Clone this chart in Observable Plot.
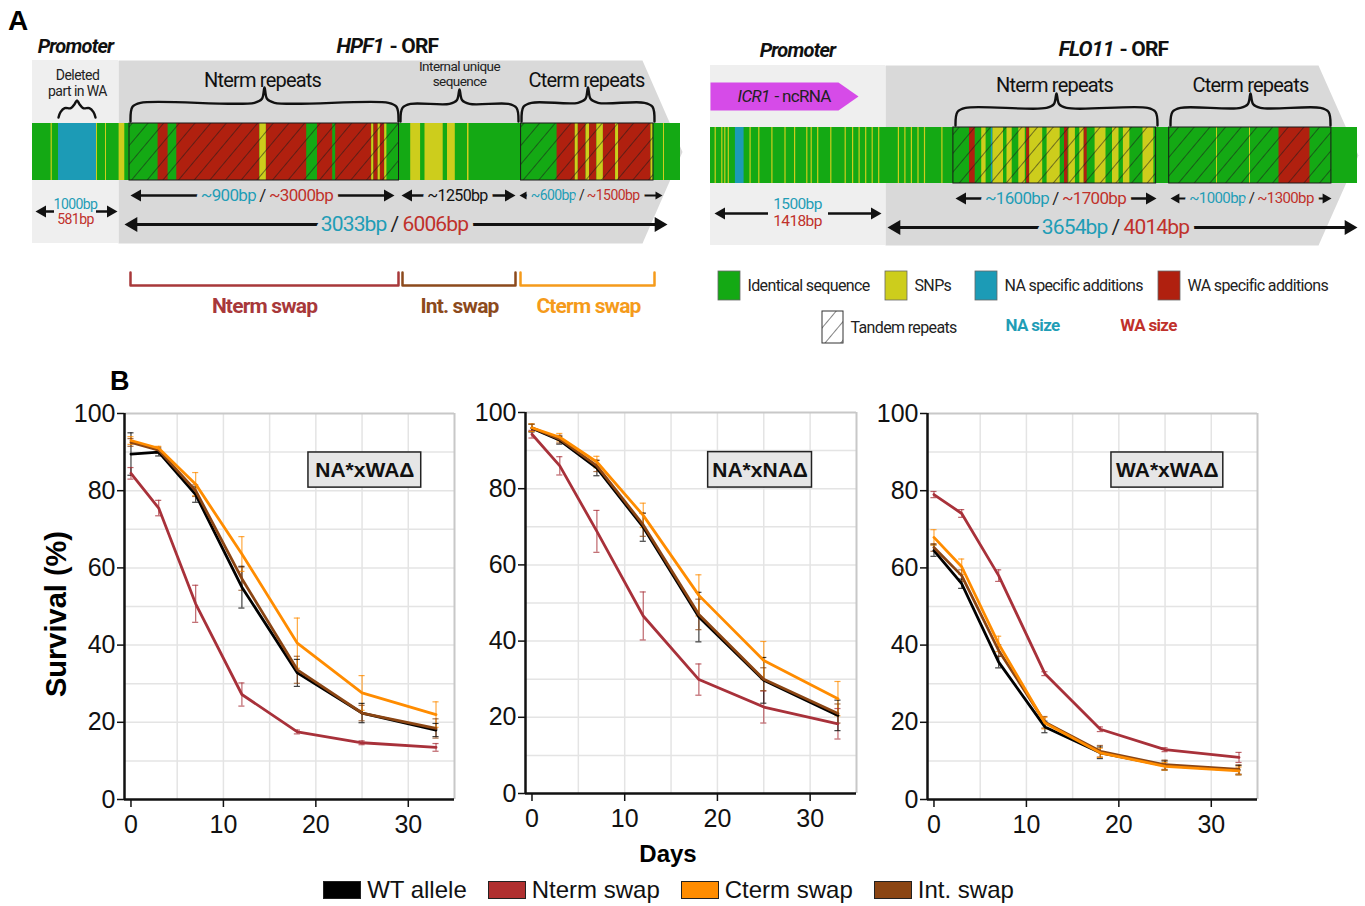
<!DOCTYPE html>
<html><head><meta charset="utf-8">
<script src="https://cdn.jsdelivr.net/npm/d3@7"></script>
<script src="https://cdn.jsdelivr.net/npm/@observablehq/plot@0.6"></script>
<style>
body{margin:0;background:#fff;}
#page{position:relative;width:1365px;height:906px;overflow:hidden;font-family:"Liberation Sans",Arial,sans-serif;background:#fff;}
.abs{position:absolute;}
.panelA text{letter-spacing:-0.04em;}
#legend{display:flex;align-items:center;justify-content:center;font-size:24px;color:#111;}
#legend .sw{width:36px;height:16px;border:1.5px solid #222;margin-right:6px;}
#legend .it{display:flex;align-items:center;margin-right:21px;}
</style></head><body>
<svg width="0" height="0" style="position:absolute">
<defs>
<pattern id="hatchA" patternUnits="userSpaceOnUse" width="12" height="12" patternTransform="rotate(40)">
<line x1="0" y1="-2" x2="0" y2="14" stroke="#1a1a1a" stroke-width="1.1"/>
</pattern>
</defs>
</svg>
<div id="page">
  <div id="panelA" class="abs" style="left:0;top:0;width:1365px;height:345px"></div>
  <div class="abs" style="left:8px;top:5px;font-weight:bold;font-size:28px;">A</div>
  <div id="c1" class="abs" style="left:64px;top:395px;width:400px"></div>
  <div id="c2" class="abs" style="left:465px;top:394px;width:401px"></div>
  <div id="c3" class="abs" style="left:867px;top:395px;width:400px"></div>
  <div class="abs" style="left:110px;top:366px;font-weight:bold;font-size:27px;">B</div>
  <div class="abs" style="left:-94px;top:598px;width:300px;text-align:center;font-weight:bold;font-size:29px;transform:rotate(-90deg);transform-origin:150px 16px;">Survival (%)</div>
  <div class="abs" style="left:568px;top:840px;width:200px;text-align:center;font-weight:bold;font-size:24px;">Days</div>
  <div id="legend" class="abs" style="left:0;top:877px;width:1358px;height:26px"></div>
</div>
<script>
// ---------------- Panel B data ----------------
const days = [0, 3, 7, 12, 18, 25, 33];
const seriesNames = ["WT allele", "Nterm swap", "Cterm swap", "Int. swap"];
const seriesColors = ["#000000", "#a8313a", "#ff8c00", "#8b4513"];
const crossNames = ["NA*xWAΔ", "NA*xNAΔ", "WA*xWAΔ"];

// NA*xWAΔ
const naWa_wt = [89.5, 90.0, 79.0, 55.0, 32.8, 22.4, 18.0];
const naWa_wtErr = [5.5, 1.0, 2.0, 5.4, 3.5, 2.5, 1.7];
const naWa_nterm = [84.5, 75.5, 50.7, 27.2, 17.5, 14.7, 13.5];
const naWa_ntermErr = [1.5, 2.0, 4.8, 3.0, 0.5, 0.5, 1.0];
const naWa_cterm = [93.0, 91.0, 81.7, 63.6, 40.5, 27.6, 22.0];
const naWa_ctermErr = [1.0, 0.5, 3.0, 4.5, 6.5, 4.5, 3.3];
const naWa_int = [92.5, 90.5, 80.0, 57.2, 33.6, 22.4, 18.4];
const naWa_intErr = [1.0, 0.8, 1.5, 3.0, 3.5, 2.0, 2.5];

// NA*xNAΔ
const naNa_wt = [95.9, 92.7, 85.4, 69.9, 46.3, 29.7, 20.5];
const naNa_wtErr = [1.0, 1.0, 2.0, 3.7, 6.5, 6.0, 4.0];
const naNa_nterm = [94.3, 86.0, 68.8, 46.6, 29.9, 22.7, 18.3];
const naNa_ntermErr = [1.0, 2.4, 5.5, 6.3, 4.1, 4.2, 4.0];
const naNa_cterm = [96.0, 93.5, 87.0, 73.0, 52.0, 34.9, 24.9];
const naNa_ctermErr = [1.0, 1.0, 1.5, 3.2, 5.4, 5.0, 4.5];
const naNa_int = [96.0, 93.0, 86.0, 70.5, 47.0, 30.0, 21.0];
const naNa_intErr = [1.0, 1.0, 1.5, 3.0, 4.0, 3.0, 2.5];

// WA*xWAΔ
const waWa_wt = [64.5, 55.9, 35.6, 18.8, 12.1, 8.8, 7.6];
const waWa_wtErr = [1.5, 1.2, 1.5, 1.5, 1.5, 1.2, 1.2];
const waWa_nterm = [79.0, 74.1, 58.0, 32.6, 18.2, 12.9, 10.9];
const waWa_ntermErr = [0.8, 1.0, 1.5, 0.5, 0.6, 0.5, 1.3];
const waWa_cterm = [67.9, 60.3, 40.3, 19.8, 12.1, 8.6, 7.4];
const waWa_ctermErr = [2.0, 2.0, 2.0, 1.5, 1.2, 1.0, 1.0];
const waWa_int = [65.3, 58.0, 38.6, 20.0, 12.5, 9.0, 7.8];
const waWa_intErr = [1.0, 1.5, 1.5, 1.5, 1.5, 1.2, 1.2];

const xTicks = [0, 10, 20, 30];
const yTicks = [0, 20, 40, 60, 80, 100];

// ---------------- Panel A data (schematic positions) ----------------
const segColors = {id: "#14a914", snp: "#cdcd1c", na: "#1c9bb6", wa: "#b0200f"};
const naText = "#1f9db6", waText = "#c0312b";

const geneBars = [
  {gene: "HPF1", x1: 32, x2: 680, y1: 123, y2: 180},
  {gene: "FLO11", x1: 710, x2: 1357, y1: 127, y2: 183}
];
const hpf1Segments = [
  [50.6,51.8,"snp"],[58,96,"na"],[96,97,"snp"],[105,106,"snp"],[118.6,124.3,"snp"],
  [157.6,167.6,"wa"],[176.3,259.4,"wa"],[259.4,265.9,"snp"],[265.9,306.2,"wa"],[317,332.2,"wa"],
  [335.2,371.2,"wa"],[371.2,373.4,"snp"],[373.4,377.7,"wa"],[377.7,379.9,"snp"],[379.9,384.2,"wa"],[384.2,386.4,"snp"],
  [410.2,420.1,"snp"],[424.5,442.7,"snp"],[447,454.8,"snp"],[467,468.5,"snp"],
  [556.6,574.8,"wa"],[574.8,577.8,"snp"],[577.8,585.6,"wa"],[585.6,589.1,"snp"],[589.1,596.4,"wa"],
  [596.4,602.9,"snp"],[602.9,615.1,"wa"],[615.1,618.1,"snp"],[618.1,650.6,"wa"],[650.6,652.8,"snp"],[663,664,"snp"]
];
const flo11PromoterSnps = [715.2,721.8,724.8,728.3,750.1,758.8,771.9,785,794.6,806.8,811.2,817.7,830.8,845.2,852.6,859.1,865.7,872.2,878.7,898.4,904.9,911.4,918,924.5,941.9];
const flo11Segments = [
  [734.9,743.6,"na"],
  [969,974.7,"wa"],[981.2,985.6,"snp"],[990.8,992.5,"na"],[992.5,1003,"snp"],[1006.5,1011.7,"snp"],
  [1018.3,1024.8,"snp"],[1026.1,1029.2,"wa"],[1029.2,1042.2,"snp"],[1046.6,1059.7,"snp"],[1064,1067.5,"wa"],
  [1068.4,1074.9,"snp"],[1079.3,1083.7,"snp"],[1083.7,1086.7,"wa"],[1094.6,1105.5,"snp"],[1112,1118.5,"snp"],
  [1122.9,1129.4,"snp"],[1142.5,1153.4,"snp"],
  [1216,1217,"snp"],[1249,1250,"snp"],[1278.5,1309.5,"wa"]
];
const hpf1Repeats = [[129,398.5],[520.6,653]];
const flo11Repeats = [[952.9,1155.6],[1168.7,1330.9]];

const promoterBoxes = [{x1: 32, x2: 118, y1: 60, y2: 243}, {x1: 710, x2: 885, y1: 65, y2: 245}];
const orfOutlines = [
  {gene: "HPF1", pts: [[118,60],[642,60],[682,151.5],[642,243],[118,243]]},
  {gene: "FLO11", pts: [[885,65],[1318,65],[1358,155],[1318,245],[885,245]]}
];
const icr1Outline = [[710,82],[838,82],[858,96],[838,110],[710,110]];

const bracesA = [
  {x1: 58, x2: 95, yb: 117, yt: 100},
  {x1: 130, x2: 398, yb: 121, yt: 87},
  {x1: 400, x2: 518, yb: 121, yt: 89},
  {x1: 521, x2: 654, yb: 121, yt: 87},
  {x1: 955, x2: 1157, yb: 125, yt: 93},
  {x1: 1170, x2: 1330, yb: 125, yt: 93}
];
const arrowsA = [
  {x1: 130, x2: 394, y: 195, lvl: "mid", L: true, R: true},
  {x1: 401, x2: 515, y: 195, lvl: "mid", L: true, R: true},
  {x1: 519, x2: 662, y: 195, lvl: "small", L: true, R: true},
  {x1: 124, x2: 667, y: 224, lvl: "major", L: true, R: true},
  {x1: 35, x2: 54, y: 211, lvl: "mid", L: true, R: false},
  {x1: 96, x2: 117, y: 211, lvl: "mid", L: false, R: true},
  {x1: 955, x2: 1156, y: 198, lvl: "mid", L: true, R: true},
  {x1: 1170, x2: 1331, y: 198, lvl: "small2", L: true, R: true},
  {x1: 887, x2: 1357, y: 227, lvl: "major", L: true, R: true},
  {x1: 714, x2: 768, y: 213, lvl: "mid", L: true, R: false},
  {x1: 828, x2: 881, y: 213, lvl: "mid", L: false, R: true}
];
const bpPairs = [
  {x: 262, y: 195, na: "~900bp", wa: "~3000bp", lvl: "mid"},
  {x: 581, y: 195, na: "~600bp", wa: "~1500bp", lvl: "small"},
  {x: 394, y: 224, na: "3033bp", wa: "6006bp", lvl: "major"},
  {x: 1055, y: 198, na: "~1600bp", wa: "~1700bp", lvl: "mid"},
  {x: 1251, y: 198, na: "~1000bp", wa: "~1300bp", lvl: "small2"},
  {x: 1115, y: 227, na: "3654bp", wa: "4014bp", lvl: "major"}
];
const swapBrackets = [
  {x1: 130, x2: 398, swap: "Nterm swap"},
  {x1: 402, x2: 515, swap: "Int. swap"},
  {x1: 520, x2: 654, swap: "Cterm swap"}
];
const swapColors = {"Nterm swap": "#a8383a", "Int. swap": "#8c4a1c", "Cterm swap": "#f59b1b"};
const textsA = [
  {t: "Promoter", x: 75, y: 46, k: "head"},
  {t: "HPF1", x: 383, y: 46, k: "headGene"},
  {t: "- ORF", x: 389, y: 46, k: "headRest"},
  {t: "Deleted", x: 77, y: 75, k: "note"},
  {t: "part in WA", x: 77, y: 91, k: "note"},
  {t: "Nterm repeats", x: 262, y: 80, k: "region"},
  {t: "Internal unique", x: 459, y: 66, k: "note2"},
  {t: "sequence", x: 459, y: 81, k: "note2"},
  {t: "Cterm repeats", x: 586, y: 80, k: "region"},
  {t: "~1250bp", x: 457, y: 195, k: "bpDark"},
  {t: "1000bp", x: 75, y: 204, k: "naSmall"},
  {t: "581bp", x: 75, y: 219, k: "waSmall"},
  {t: "Nterm swap", x: 264, y: 306, k: "swapN"},
  {t: "Int. swap", x: 459, y: 306, k: "swapI"},
  {t: "Cterm swap", x: 588, y: 306, k: "swapC"},
  {t: "Promoter", x: 797, y: 50, k: "head"},
  {t: "FLO11", x: 1113, y: 49, k: "headGene"},
  {t: "- ORF", x: 1119, y: 49, k: "headRest"},
  {t: "ICR1", x: 769, y: 96, k: "icrGene"},
  {t: "- ncRNA", x: 774, y: 96, k: "icrRest"},
  {t: "Nterm repeats", x: 1054, y: 85, k: "region"},
  {t: "Cterm repeats", x: 1250, y: 85, k: "region"},
  {t: "1500bp", x: 797, y: 204, k: "naMid"},
  {t: "1418bp", x: 797, y: 221, k: "waMid"},
  {t: "Tandem repeats", x: 850, y: 327, k: "legend"},
  {t: "NA size", x: 1032, y: 325, k: "legNa"},
  {t: "WA size", x: 1148, y: 325, k: "legWa"}
];
const legendA = [
  {type: "id", label: "Identical sequence", x: 718},
  {type: "snp", label: "SNPs", x: 885},
  {type: "na", label: "NA specific additions", x: 975},
  {type: "wa", label: "WA specific additions", x: 1158}
];
const tandemSwatch = {x1: 822, x2: 843, y1: 311, y2: 343};

// ---------------- Panel A drawing ----------------
const FONT_A = "Roboto, 'Noto Sans', sans-serif";
const lvlStyle = {
  major: {sw: 3, r: 5.5, fs: 21},
  mid: {sw: 2.5, r: 4.5, fs: 17},
  small: {sw: 1.8, r: 3, fs: 14},
  small2: {sw: 2.2, r: 3.8, fs: 15}
};
const ORF_BG = "#d9d9d9", PROM_BG = "#efefef";

function bracePts(b, i) {
  const xm = (b.x1 + b.x2) / 2, h = b.yb - b.yt, ym = b.yb - h * 0.55;
  const c = Math.min(10, (b.x2 - b.x1) / 6);
  return [[b.x1, b.yb], [b.x1 + 2, ym + 4], [b.x1 + c, ym], [xm - c, ym], [xm - 2.5, ym - 4], [xm, b.yt],
          [xm + 2.5, ym - 4], [xm + c, ym], [b.x2 - c, ym], [b.x2 - 2, ym + 4], [b.x2, b.yb]]
    .map(([x, y]) => ({id: i, x, y}));
}
const braceData = bracesA.flatMap(bracePts);

const segRows = [];
for (const [x1, x2, type] of hpf1Segments) segRows.push({x1, x2, y1: geneBars[0].y1, y2: geneBars[0].y2, type});
for (const x of flo11PromoterSnps) segRows.push({x1: x - 0.6, x2: x + 0.6, y1: geneBars[1].y1, y2: geneBars[1].y2, type: "snp"});
for (const [x1, x2, type] of flo11Segments) segRows.push({x1, x2, y1: geneBars[1].y1, y2: geneBars[1].y2, type});
const repeatRows = [
  ...hpf1Repeats.map(([x1, x2]) => ({x1, x2, y1: geneBars[0].y1, y2: geneBars[0].y2})),
  ...flo11Repeats.map(([x1, x2]) => ({x1, x2, y1: geneBars[1].y1, y2: geneBars[1].y2}))
];
const orfPts = orfOutlines.flatMap(o => o.pts.map(([x, y]) => ({gene: o.gene, x, y})));
const icrPts = icr1Outline.map(([x, y]) => ({x, y}));

const arrowLines = arrowsA.map(a => {
  const s = lvlStyle[a.lvl];
  return {x1: a.x1 + (a.L ? s.r : 0), x2: a.x2 - (a.R ? s.r : 0), y: a.y, lvl: a.lvl};
});
const arrowHeads = arrowsA.flatMap(a => {
  const s = lvlStyle[a.lvl], off = s.r * 1.555;
  const out = [];
  if (a.L) out.push({x: a.x1 + off, y: a.y, rot: -90, lvl: a.lvl});
  if (a.R) out.push({x: a.x2 - off, y: a.y, rot: 90, lvl: a.lvl});
  return out;
});
const bracketPts = swapBrackets.flatMap(b => [[b.x1, 272], [b.x1, 285], [b.x2, 285], [b.x2, 272]].map(([x, y]) => ({swap: b.swap, x, y})));

const textStyles = {
  head: {fontSize: 20, fontWeight: "bold", fontStyle: "italic", fill: "#111"},
  headGene: {fontSize: 21, fontWeight: "bold", fontStyle: "italic", fill: "#111", textAnchor: "end"},
  headRest: {fontSize: 21, fontWeight: "bold", fill: "#111", textAnchor: "start"},
  note: {fontSize: 14, fill: "#222"},
  note2: {fontSize: 13.5, fill: "#222"},
  region: {fontSize: 20, fill: "#111"},
  bpDark: {fontSize: 16, fill: "#111", stroke: ORF_BG, strokeWidth: 10, paintOrder: "stroke", strokeLinejoin: "round"},
  naSmall: {fontSize: 14, fill: naText},
  waSmall: {fontSize: 14, fill: waText},
  naMid: {fontSize: 15.5, fill: naText},
  waMid: {fontSize: 15.5, fill: waText},
  swapN: {fontSize: 21, fontWeight: "bold", fill: swapColors["Nterm swap"]},
  swapI: {fontSize: 21, fontWeight: "bold", fill: swapColors["Int. swap"]},
  swapC: {fontSize: 21, fontWeight: "bold", fill: swapColors["Cterm swap"]},
  icrGene: {fontSize: 17, fontStyle: "italic", fill: "#222", textAnchor: "end"},
  icrRest: {fontSize: 17, fill: "#222", textAnchor: "start"},
  legend: {fontSize: 16, fill: "#222", textAnchor: "start"},
  legNa: {fontSize: 17, fontWeight: "bold", fill: naText},
  legWa: {fontSize: 17, fontWeight: "bold", fill: waText}
};

const pairMarks = Object.keys(lvlStyle).flatMap(lvl => {
  const d = bpPairs.filter(p => p.lvl === lvl);
  const fs = lvlStyle[lvl].fs, gap = fs * 0.38;
  const mask = {stroke: ORF_BG, strokeWidth: 10, paintOrder: "stroke", strokeLinejoin: "round", fontSize: fs};
  return [
    Plot.text(d, {x: p => p.x - gap, y: "y", text: "na", textAnchor: "end", fill: naText, ...mask}),
    Plot.text(d, {x: "x", y: "y", text: () => "/", fill: "#222", ...mask}),
    Plot.text(d, {x: p => p.x + gap, y: "y", text: "wa", textAnchor: "start", fill: waText, ...mask})
  ];
});

const panelA = Plot.plot({
  width: 1365, height: 345,
  marginTop: 0, marginRight: 0, marginBottom: 0, marginLeft: 0,
  x: {domain: [0, 1365], range: [0, 1365], axis: null},
  y: {domain: [0, 345], range: [0, 345], axis: null},
  color: {type: "identity"},
  className: "panelA",
  style: {fontFamily: FONT_A, background: "transparent", maxWidth: "none", overflow: "visible"},
  marks: [
    Plot.rect(promoterBoxes, {x1: "x1", x2: "x2", y1: "y1", y2: "y2", fill: PROM_BG}),
    Plot.line(orfPts, {x: "x", y: "y", z: "gene", fill: ORF_BG, stroke: "none"}),
    Plot.line(icrPts, {x: "x", y: "y", fill: "#d64be8", stroke: "none"}),
    Plot.rect(geneBars, {x1: "x1", x2: "x2", y1: "y1", y2: "y2", fill: segColors.id}),
    Plot.rect(segRows, {x1: "x1", x2: "x2", y1: "y1", y2: "y2", fill: d => segColors[d.type]}),
    Plot.rect(repeatRows, {x1: "x1", x2: "x2", y1: "y1", y2: "y2", fill: "url(#hatchA)", stroke: "#1a1a1a", strokeWidth: 1}),
    Plot.line(braceData, {x: "x", y: "y", z: "id", curve: "catmull-rom", stroke: "#111", strokeWidth: 2.4}),
    ...Object.keys(lvlStyle).map(lvl => Plot.ruleY(arrowLines.filter(a => a.lvl === lvl), {y: "y", x1: "x1", x2: "x2", stroke: "#111", strokeWidth: lvlStyle[lvl].sw})),
    ...pairMarks,
    ...Object.entries(textStyles).map(([k, s]) => Plot.text(textsA.filter(d => d.k === k), {x: "x", y: "y", text: "t", ...s})),
    ...Object.keys(lvlStyle).map(lvl => Plot.dot(arrowHeads.filter(a => a.lvl === lvl), {x: "x", y: "y", rotate: "rot", symbol: "triangle", r: lvlStyle[lvl].r, fill: "#111", stroke: "none"})),
    Plot.line(bracketPts, {x: "x", y: "y", z: "swap", stroke: d => swapColors[d.swap], strokeWidth: 2.5}),
    Plot.rect(legendA, {x1: "x", x2: d => d.x + 22, y1: 271, y2: 300, fill: d => segColors[d.type], stroke: "#666", strokeWidth: 0.8}),
    Plot.text(legendA, {x: d => d.x + 29, y: 285.5, text: "label", textAnchor: "start", fontSize: 16, fill: "#222"}),
    Plot.rect([tandemSwatch], {x1: "x1", x2: "x2", y1: "y1", y2: "y2", fill: "#fff"}),
    Plot.rect([tandemSwatch], {x1: "x1", x2: "x2", y1: "y1", y2: "y2", fill: "url(#hatchA)", stroke: "#333", strokeWidth: 1})
  ]
});
document.getElementById("panelA").appendChild(panelA);

// ---------------- Panel B drawing ----------------
function survivalChart(ci, vals, errs, box, dims) {
  const rows = [];
  for (const s of [1, 0, 3, 2]) {
    days.forEach((d, i) => rows.push({series: seriesNames[s], day: d, v: vals[s][i], e: errs[s][i]}));
  }
  const cap = 0.33;
  const xMin = -0.7, xMax = 35;
  return Plot.plot({
    width: dims.width, height: dims.height,
    marginLeft: 60, marginRight: 10, marginTop: 18, marginBottom: 36,
    x: {domain: [xMin, xMax]},
    y: {domain: [0, 100]},
    color: {domain: seriesNames, range: seriesColors},
    style: {fontFamily: "'Liberation Sans', Arial, sans-serif", fontSize: "25px", color: "#111", background: "transparent", maxWidth: "none", overflow: "visible"},
    marks: [
      Plot.ruleY(d3.range(10, 100, 10), {stroke: "#e4e4e4", strokeWidth: 1.5}),
      Plot.ruleX(d3.range(5, 35, 5), {stroke: "#e4e4e4", strokeWidth: 1.5}),
      Plot.ruleY([100], {stroke: "#c8c8c8", strokeWidth: 2}),
      Plot.ruleX([xMax], {stroke: "#c8c8c8", strokeWidth: 2}),
      Plot.rect([crossNames[ci]], {x1: box[0], x2: box[1], y1: box[2], y2: box[3], fill: "#e6e6e6", stroke: "#222", strokeWidth: 1.5}),
      Plot.text([crossNames[ci]], {x: (box[0] + box[1]) / 2, y: (box[2] + box[3]) / 2, text: d => d, fontSize: 21, fontWeight: "bold", fill: "#111"}),
      Plot.ruleX(rows, {x: "day", y1: d => d.v - d.e, y2: d => d.v + d.e, stroke: "series", strokeWidth: 1.2, strokeOpacity: 0.75}),
      Plot.ruleY(rows, {y: d => d.v + d.e, x1: d => d.day - cap, x2: d => d.day + cap, stroke: "series", strokeWidth: 1.2, strokeOpacity: 0.75}),
      Plot.ruleY(rows, {y: d => d.v - d.e, x1: d => d.day - cap, x2: d => d.day + cap, stroke: "series", strokeWidth: 1.2, strokeOpacity: 0.75}),
      Plot.line(rows, {x: "day", y: "v", z: "series", stroke: "series", strokeWidth: 2.8}),
      Plot.axisX({ticks: xTicks, tickSize: 8, tickPadding: 8, fontSize: 25, strokeWidth: 1.5, label: null}),
      Plot.axisY({ticks: yTicks, tickSize: 7, tickPadding: 2, fontSize: 25, strokeWidth: 1.5, label: null}),
      Plot.ruleY([0], {stroke: "#111", strokeWidth: 2.5}),
      Plot.ruleX([xMin], {stroke: "#111", strokeWidth: 2.5})
    ]
  });
}

document.getElementById("c1").appendChild(survivalChart(0,
  [naWa_wt, naWa_nterm, naWa_cterm, naWa_int],
  [naWa_wtErr, naWa_ntermErr, naWa_ctermErr, naWa_intErr],
  [19.2, 31.4, 80.8, 89.9], {width: 400, height: 440}));
document.getElementById("c2").appendChild(survivalChart(1,
  [naNa_wt, naNa_nterm, naNa_cterm, naNa_int],
  [naNa_wtErr, naNa_ntermErr, naNa_ctermErr, naNa_intErr],
  [19.0, 30.2, 80.3, 89.6], {width: 401, height: 435}));
document.getElementById("c3").appendChild(survivalChart(2,
  [waWa_wt, waWa_nterm, waWa_cterm, waWa_int],
  [waWa_wtErr, waWa_ntermErr, waWa_ctermErr, waWa_intErr],
  [19.2, 31.3, 80.8, 89.9], {width: 400, height: 440}));

// legend
const legendSwatch = ["#000000", "#b03030", "#ff8c00", "#8b4513"];
const leg = document.getElementById("legend");
seriesNames.forEach((name, i) => {
  const it = document.createElement("div"); it.className = "it";
  const sw = document.createElement("div"); sw.className = "sw"; sw.style.background = legendSwatch[i];
  const tx = document.createElement("span"); tx.textContent = name;
  it.appendChild(sw); it.appendChild(tx); leg.appendChild(it);
});
</script>
</body></html>
